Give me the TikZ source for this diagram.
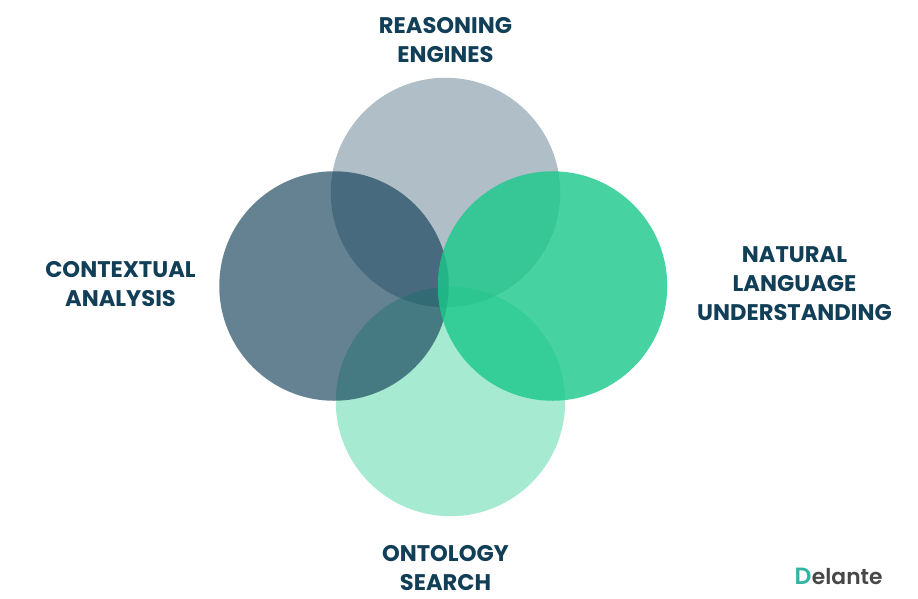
\documentclass[tikz,border=0pt]{standalone}
\usepackage{fontspec}
\setmainfont{Poppins}[UprightFont=* Bold]
\newfontfamily\brandfont{Poppins}[UprightFont=* SemiBold]
\definecolor{labelink}{HTML}{123F58}
\definecolor{slate}{HTML}{0E3C55}
\definecolor{mint}{HTML}{1AC88A}
\definecolor{brandmark}{HTML}{2FB5A5}
\tikzset{
  petal/.style={circle,minimum size=229.5pt,inner sep=0pt,fill=#1},
  caption/.style={align=center,text=labelink,inner sep=0pt,font=\fontsize{22.6}{29}\selectfont},
}
\begin{document}
\begin{tikzpicture}[x=1pt,y=-1pt]
\useasboundingbox (0,0) rectangle (918,598);
\fill[white] (0,0) rectangle (918,598);
% four overlapping discs, lightest first
\node[petal=slate,fill opacity=.33] (reason) at (445.5,192.5) {};
\node[petal=mint,fill opacity=.38] (onto) at (450.5,401.5) {};
\node[petal=slate,fill opacity=.64] (context) at (334,286) {};
\node[petal=mint,fill opacity=.8] (natural) at (552.5,286) {};
% captions
\node[caption] (t1) at (445.5,40) {REASONING\\ENGINES};
\node[caption] (t2) at (120.5,284) {CONTEXTUAL\\ANALYSIS};
\node[caption] (t3) at (794.5,283.5) {NATURAL\\LANGUAGE\\UNDERSTANDING};
\node[caption] (t4) at (445.5,568) {ONTOLOGY\\SEARCH};
% wordmark
\node[text=brandmark,font=\brandfont\fontsize{23.5}{24}\selectfont,inner sep=0pt,anchor=base west] (dd) at (794.5,584) {D};
\node[text=black!72,font=\brandfont\fontsize{21.8}{24}\selectfont,inner sep=0pt,anchor=base west] (brand) at (dd.base east) {elante};
\end{tikzpicture}
\end{document}
